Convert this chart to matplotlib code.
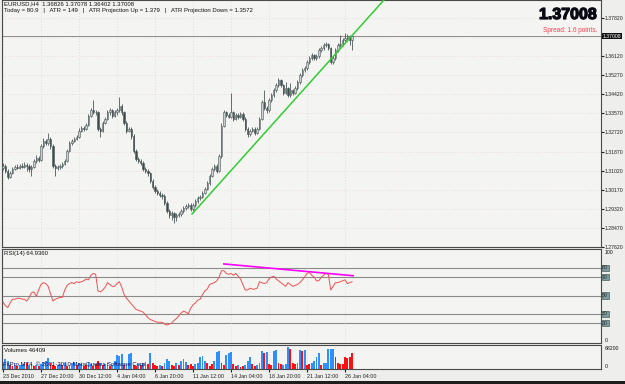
import numpy as np
import matplotlib.pyplot as plt
import matplotlib.patheffects as pe
from matplotlib.patches import Rectangle

plt.rcParams['font.family'] = ['Liberation Sans', 'DejaVu Sans']

# EURUSD H4 bars
first_open = 1.3115
closes = [
    1.3124, 1.3101, 1.3075, 1.3092, 1.3110, 1.3119, 1.3115, 1.3124,
    1.3119, 1.3128, 1.3124, 1.3110, 1.3119, 1.3146, 1.3160, 1.3151,
    1.3213, 1.3236, 1.3227, 1.3245, 1.3213, 1.3124, 1.3115, 1.3119,
    1.3124, 1.3133, 1.3146, 1.3191, 1.3227, 1.3236, 1.3245, 1.3254,
    1.3280, 1.3294, 1.3289, 1.3307, 1.3347, 1.3370, 1.3365, 1.3361,
    1.3289, 1.3280, 1.3316, 1.3334, 1.3361, 1.3370, 1.3347, 1.3361,
    1.3370, 1.3392, 1.3361, 1.3316, 1.3280, 1.3289, 1.3258, 1.3191,
    1.3155, 1.3146, 1.3137, 1.3110, 1.3101, 1.3092, 1.3057, 1.3030,
    1.3012, 1.3003, 1.2994, 1.2990, 1.2958, 1.2922, 1.2904, 1.2913,
    1.2895, 1.2904, 1.2909, 1.2922, 1.2936, 1.2945, 1.2949, 1.2931,
    1.2949, 1.2967, 1.2981, 1.2985, 1.3003, 1.3021, 1.3048, 1.3079,
    1.3110, 1.3124, 1.3101, 1.3169, 1.3303, 1.3361, 1.3352, 1.3343,
    1.3361, 1.3334, 1.3352, 1.3343, 1.3356, 1.3334, 1.3289, 1.3267,
    1.3280, 1.3289, 1.3271, 1.3289, 1.3334, 1.3406, 1.3379, 1.3370,
    1.3415, 1.3437, 1.3459, 1.3482, 1.3504, 1.3482, 1.3450, 1.3468,
    1.3437, 1.3459, 1.3450, 1.3468, 1.3495, 1.3526, 1.3549, 1.3558,
    1.3585, 1.3603, 1.3616, 1.3603, 1.3611, 1.3638, 1.3647, 1.3661,
    1.3665, 1.3647, 1.3585, 1.3603, 1.3638, 1.3661, 1.3665, 1.3683,
    1.3692, 1.3701, 1.36826, 1.37008]
highs = [
    1.3135, 1.3130, 1.3108, 1.3100, 1.3118, 1.3126, 1.3130, 1.3133,
    1.3137, 1.3140, 1.3135, 1.3130, 1.3127, 1.3155, 1.3170, 1.3168,
    1.3222, 1.3248, 1.3245, 1.3271, 1.3252, 1.3220, 1.3130, 1.3128,
    1.3133, 1.3142, 1.3155, 1.3200, 1.3236, 1.3245, 1.3254, 1.3263,
    1.3290, 1.3303, 1.3301, 1.3316, 1.3356, 1.3380, 1.3415, 1.3374,
    1.3366, 1.3296, 1.3325, 1.3343, 1.3370, 1.3380, 1.3376, 1.3370,
    1.3380, 1.3432, 1.3400, 1.3368, 1.3322, 1.3298, 1.3296, 1.3265,
    1.3200, 1.3165, 1.3155, 1.3145, 1.3118, 1.3110, 1.3098, 1.3064,
    1.3038, 1.3020, 1.3012, 1.3003, 1.2998, 1.2965, 1.2930, 1.2922,
    1.2920, 1.2914, 1.2918, 1.2931, 1.2945, 1.2954, 1.2958, 1.2956,
    1.2958, 1.2976, 1.2990, 1.2995, 1.3012, 1.3030, 1.3057, 1.3088,
    1.3120, 1.3133, 1.3130, 1.3178, 1.3312, 1.3370, 1.3368, 1.3360,
    1.3446, 1.3368, 1.3360, 1.3360, 1.3365, 1.3362, 1.3340, 1.3296,
    1.3289, 1.3298, 1.3296, 1.3298, 1.3343, 1.3415, 1.3459, 1.3388,
    1.3424, 1.3446, 1.3468, 1.3491, 1.3514, 1.3510, 1.3488, 1.3495,
    1.3475, 1.3491, 1.3466, 1.3477, 1.3504, 1.3535, 1.3558, 1.3567,
    1.3594, 1.3612, 1.3625, 1.3622, 1.3620, 1.3647, 1.3656, 1.3670,
    1.3674, 1.3672, 1.3652, 1.3612, 1.3647, 1.3670, 1.3705, 1.3692,
    1.3714, 1.3712, 1.3708, 1.37078]
lows = [
    1.3105, 1.3092, 1.3066, 1.3070, 1.3085, 1.3104, 1.3108, 1.3110,
    1.3112, 1.3114, 1.3100, 1.3096, 1.3080, 1.3112, 1.3138, 1.3140,
    1.3145, 1.3205, 1.3215, 1.3218, 1.3200, 1.3115, 1.3079, 1.3105,
    1.3108, 1.3115, 1.3125, 1.3140, 1.3185, 1.3218, 1.3228, 1.3238,
    1.3248, 1.3272, 1.3280, 1.3282, 1.3300, 1.3340, 1.3356, 1.3350,
    1.3280, 1.3250, 1.3272, 1.3308, 1.3326, 1.3352, 1.3338, 1.3340,
    1.3352, 1.3365, 1.3352, 1.3305, 1.3270, 1.3272, 1.3245, 1.3180,
    1.3145, 1.3135, 1.3125, 1.3100, 1.3092, 1.3080, 1.3048, 1.3020,
    1.3003, 1.2994, 1.2985, 1.2975, 1.2950, 1.2913, 1.2890, 1.2882,
    1.2869, 1.2880, 1.2895, 1.2900, 1.2915, 1.2928, 1.2936, 1.2922,
    1.2924, 1.2940, 1.2960, 1.2972, 1.2978, 1.2996, 1.3014, 1.3040,
    1.3072, 1.3100, 1.3092, 1.3095, 1.3160, 1.3295, 1.3340, 1.3335,
    1.3336, 1.3325, 1.3326, 1.3333, 1.3336, 1.3325, 1.3280, 1.3254,
    1.3258, 1.3272, 1.3263, 1.3264, 1.3284, 1.3328, 1.3370, 1.3360,
    1.3365, 1.3408, 1.3430, 1.3452, 1.3476, 1.3474, 1.3440, 1.3443,
    1.3428, 1.3430, 1.3441, 1.3443, 1.3460, 1.3488, 1.3518, 1.3540,
    1.3550, 1.3576, 1.3595, 1.3594, 1.3596, 1.3604, 1.3630, 1.3640,
    1.3652, 1.3638, 1.3576, 1.3578, 1.3596, 1.3630, 1.3654, 1.3656,
    1.3670, 1.3680, 1.3660, 1.36402]

rsi = [
    43, 39, 37, 42, 46, 46, 47, 47, 46, 46, 44, 48, 53, 54, 49, 56,
    62, 64, 63, 60, 52, 44, 46, 47, 48, 48, 56, 61, 63, 64, 63, 65,
    64, 65, 66, 68, 67, 72, 74, 73, 55, 54, 56, 59, 64, 62, 60, 60,
    63, 65, 59, 51, 47, 44, 41, 38, 35, 34, 33, 32, 29, 26, 24, 23,
    22, 21, 21, 21, 19, 18, 19, 20, 23, 25, 28, 31, 33, 32, 30, 36,
    40, 42, 45, 46, 51, 55, 57, 62, 63, 64, 66, 70, 77, 77, 74, 73,
    74, 72, 74, 71, 68, 62, 56, 56, 58, 57, 57, 58, 65, 64, 63, 64,
    68, 70, 71, 68, 66, 64, 62, 60, 64, 62, 60, 61, 62, 64, 67, 70,
    74, 75, 72, 70, 66, 66, 70, 72, 74, 73, 56, 60, 64, 64, 65, 66,
    67, 63, 64, 64.936]
rsi_levels = [80, 70, 50, 30, 20]

volumes = [
    15000, 27000, 24000, 12000, 9000, 12000, 9000, 12000,
    12000, 15000, 18000, 12000, 15000, 9000, 12000, 9000,
    15000, 21000, 24000, 30000, 18000, 12000, 9000, 12000,
    15000, 12000, 18000, 9000, 12000, 18000, 21000, 12000,
    18000, 15000, 9000, 12000, 21000, 15000, 9000, 15000,
    24000, 18000, 12000, 15000, 18000, 9000, 12000, 24000,
    39000, 36000, 42000, 12000, 15000, 42000, 45000, 12000,
    9000, 15000, 12000, 18000, 21000, 15000, 45000, 18000,
    12000, 9000, 12000, 9000, 18000, 27000, 24000, 12000,
    9000, 18000, 12000, 24000, 27000, 21000, 12000, 15000,
    9000, 15000, 18000, 33000, 36000, 24000, 18000, 9000,
    15000, 24000, 48000, 51000, 18000, 12000, 39000, 45000,
    48000, 15000, 9000, 12000, 6000, 9000, 12000, 24000,
    33000, 15000, 9000, 12000, 18000, 51000, 45000, 48000,
    15000, 12000, 51000, 54000, 18000, 15000, 12000, 15000,
    63000, 57000, 18000, 15000, 18000, 54000, 51000, 54000,
    12000, 15000, 18000, 24000, 33000, 45000, 12000, 18000,
    18000, 57000, 57000, 57000, 33000, 18000, 15000, 15000,
    33000, 30000, 33000, 46409]
# b = rising volume bar, r = falling
vol_dir = ("bbbrrbrb" "bbrbbrbr" "bbbbrrrb" "brbrbbbr" "bbrrbbrr" "rbrbbrbb"
           "bbbrbbbr" "rbrbbrbr" "rrbrbbbr" "rbrbbbrr" "rbbbbbrr" "rbbbrrbb"
           "brrbrrbb" "brrbbbrb" "rrbbrrbb" "brrrbbrb" "rrbbbbrb" "bbbbrrrr"
           "rrrr")

time_labels = ['23 Dec 2010', '27 Dec 20:00', '30 Dec 12:00', '4 Jan 04:00',
               '6 Jan 20:00', '11 Jan 12:00', '14 Jan 04:00', '18 Jan 20:00',
               '21 Jan 12:00', '26 Jan 04:00']
time_bars = [0, 16, 32, 48, 64, 80, 96, 112, 128, 144]
price_ticks = [1.37820, 1.36970, 1.36120, 1.35270, 1.34420, 1.33570, 1.32720,
               1.31870, 1.31020, 1.30170, 1.29320, 1.28470, 1.27620]
last_price = 1.37008
trend_bars, trend_prices = [79.6, 160.4], [1.2909, 1.3862]
div_bars, div_rsi = [93, 147.4], [84.3, 71.5]

n = len(closes)
x = np.arange(n)
c = np.array(closes)
h = np.array(highs)
l = np.array(lows)
o = np.r_[first_open, c[:-1]]
o[-1] = 1.36826

W, H = 625, 384
bg = '#f4f5f2'
fig = plt.figure(figsize=(6.25, 3.84), dpi=100, facecolor='#eeeeec')


def panel(left, top, right, bottom):
    a = fig.add_axes([left / W, 1 - bottom / H, (right - left) / W, (bottom - top) / H])
    a.set_facecolor(bg)
    for s in a.spines.values():
        s.set_color('#4a4a4a')
        s.set_linewidth(0.8)
    a.set_xlim(-0.42, 251.8)
    return a


def ftext(px, py, s, **kw):
    fig.text(px / W, 1 - py / H, s, **kw)


fs = 4.3
fs_axis = 3.7
grid_kw = dict(color='#e2c0c0', linestyle=(0, (1, 3)), linewidth=0.5)

# main price panel
ax = panel(2, 0, 601, 247)
ax.set_ylim(1.2762, 1.3862)
ax.set_yticks(price_ticks)
ax.set_yticklabels(['' if abs(p - 1.3697) < 1e-4 else f'{p:.5f}' for p in price_ticks])
ax.yaxis.tick_right()
ax.tick_params(axis='y', labelsize=fs_axis, length=2, pad=0.8, colors='#202020')
ax.set_xticks(time_bars)
ax.tick_params(axis='x', length=0, labelbottom=False)
ax.grid(True, **grid_kw)
ax.set_axisbelow(True)

up = c >= o
ax.vlines(x, l, h, color='#4a5757', linewidth=0.6, zorder=2)
body_h = np.maximum(np.abs(c - o), 0.00012)
ax.bar(x, body_h, bottom=np.minimum(o, c), width=0.62,
       color=np.where(up, '#c8d0d0', '#3e4b4b'), edgecolor='#4a5757',
       linewidth=0.4, zorder=3)
ax.axhline(last_price, color='#8c8c8c', linewidth=0.7, zorder=1)
ax.plot(trend_bars, trend_prices, color='#33cc33', linewidth=1.1, zorder=4)
ax.text(1.003, last_price, f'{last_price:.5f}', transform=ax.get_yaxis_transform(),
        fontsize=fs_axis, color='white', va='center', ha='left', clip_on=False,
        bbox=dict(facecolor='#111111', edgecolor='none', pad=0.5))

ftext(4, 4, 'EURUSD,H4  1.36826 1.37078 1.36402 1.37008', fontsize=fs, va='center', color='#111111')
ftext(4, 10.5, 'Today = 80.9   |   ATR = 149   |   ATR Projection Up = 1.379   |   ATR Projection Down = 1.3572',
      fontsize=fs, va='center', color='#111111')
ftext(597, 14.5, '1.37008', fontsize=11.5, fontweight='bold', ha='right', va='center',
      color='#0a0a14', path_effects=[pe.withStroke(linewidth=0.9, foreground='#0a0a14')])
ftext(597, 30, 'Spread: 1.6 points.', fontsize=fs + 0.4, ha='right', va='center', color='#ff3c50')

# RSI panel
ar = panel(2, 249, 601, 343)
ar.set_ylim(-1.5, 100.5)
ar.set_yticks([])
ar.set_xticks(time_bars)
ar.tick_params(axis='x', length=0, labelbottom=False)
ar.grid(True, axis='x', **grid_kw)
for lv in rsi_levels:
    ar.axhline(lv, color='#8a8a8a', linewidth=0.8, zorder=1)
    ar.text(1.002, lv, str(lv), transform=ar.get_yaxis_transform(), fontsize=fs_axis,
            color='#203030', va='center', ha='left', clip_on=False,
            bbox=dict(facecolor='#7f9a9a', edgecolor='#304848', linewidth=0.4, pad=0.4))
ar.plot(x, rsi, color='#f05050', linewidth=0.7, zorder=3)
ar.plot(div_bars, div_rsi, color='#ff00ff', linewidth=1.2, zorder=4)
ftext(4, 254, 'RSI(14) 64.9360', fontsize=fs, va='center', color='#111111')
ftext(604.5, 253, '100', fontsize=fs_axis, va='center', color='#111111')
ftext(604.5, 340, '0', fontsize=fs_axis, va='center', color='#111111')

# volume panel
av = panel(2, 345, 601, 369)
av.set_ylim(0, 68200)
av.set_yticks([])
vcol = ['#2f8fff' if d == 'b' else '#ff1010' for d in vol_dir]
av.bar(x, volumes, width=0.75, color=vcol, linewidth=0, zorder=2)
av.set_xticks(time_bars)
av.set_xticklabels(time_labels, ha='left')
av.tick_params(axis='x', labelsize=fs_axis + 0.2, length=2, pad=1.5, colors='#202020')
av.grid(True, axis='x', **grid_kw)
av.set_axisbelow(True)
ftext(4, 350, 'Volumes 46409', fontsize=fs, va='center', color='#111111')
ftext(604.5, 349, '68200', fontsize=fs_axis, va='center', color='#111111')
ftext(604.5, 367, '0', fontsize=fs_axis, va='center', color='#111111')
ftext(3, 364, 'FxPro MT4, \u00a9 2001-2010 MetaQuotes Software Corp.', fontsize=fs,
      va='center', color='#10105a', zorder=5)

fig.patches.append(Rectangle((0, 0), 1, 3 / H, transform=fig.transFigure,
                             facecolor='#1e1e1e', edgecolor='none'))

plt.savefig('out.png', dpi=100, facecolor=fig.get_facecolor())
plt.close()
